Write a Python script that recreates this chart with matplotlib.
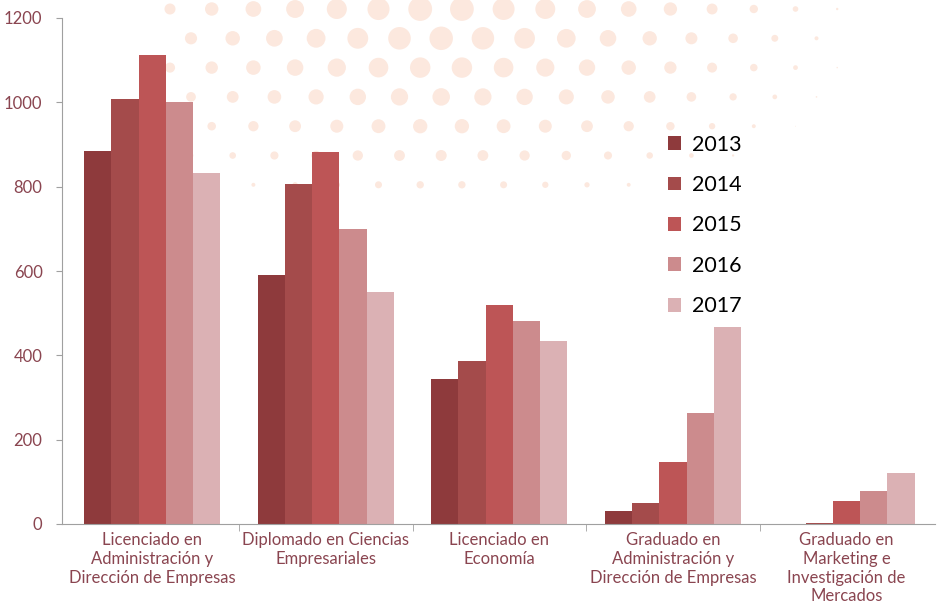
import numpy as np
import matplotlib.pyplot as plt

# data
categories = [
    "Licenciado en\nAdministración y\nDirección de Empresas",
    "Diplomado en Ciencias\nEmpresariales",
    "Licenciado en\nEconomía",
    "Graduado en\nAdministración y\nDirección de Empresas",
    "Graduado en\nMarketing e\nInvestigación de\nMercados",
]
years = ["2013", "2014", "2015", "2016", "2017"]
v2013 = [885, 590, 344, 31, 0]
v2014 = [1008, 806, 387, 50, 3]
v2015 = [1112, 882, 519, 147, 55]
v2016 = [1001, 700, 481, 263, 78]
v2017 = [832, 550, 434, 467, 121]
y_ticks = [0, 200, 400, 600, 800, 1000, 1200]

colors = ["#8e3a3c", "#a44b4b", "#bd5556", "#cc8b8d", "#dbb1b4"]
label_color = "#8a4550"

plt.rcParams['font.family'] = ['Lato', 'DejaVu Sans']

fig = plt.figure(figsize=(9.39, 6.08), dpi=100)

# faint halftone decoration in the background
bg = fig.add_axes([0, 0, 1, 1], zorder=0)
bg.set_xlim(0, 939)
bg.set_ylim(608, 0)
bg.axis('off')
for r in range(7):
    yy = 9 + r * 29.3
    off = 0 if r % 2 == 0 else 21
    xs = np.arange(170 + off, 900, 41.7)
    d = np.hypot((xs - 440) / 420.0, (yy - 20) / 210.0)
    s = np.clip(1 - d, 0, None) ** 1.6 * 330
    bg.scatter(xs, np.full_like(xs, yy), s=s, color="#fce8de", lw=0)

ax = fig.add_axes([62 / 939, 1 - 524 / 608, (935 - 62) / 939, (524 - 18) / 608], zorder=1)
ax.patch.set_alpha(0)

series = [v2013, v2014, v2015, v2016, v2017]
x = np.arange(len(categories))
w = 0.157
for i, (vals, yr) in enumerate(zip(series, years)):
    ax.bar(x + (i - 2) * w, vals, width=w, color=colors[i], label=yr)

ax.set_xlim(-0.52, 4.51)
ax.set_ylim(0, 1200)
ax.set_yticks(y_ticks)
ax.set_xticks(x)
ax.set_xticklabels(categories, color=label_color, fontsize=12, linespacing=1.2)
ax.set_xticks(np.arange(0.5, len(categories) - 1, 1), minor=True)
ax.tick_params(axis='x', which='major', length=0, pad=6)
ax.tick_params(axis='x', which='minor', length=5, color="#a0a0a0")
ax.tick_params(axis='y', length=4, color="#a0a0a0", labelsize=12, labelcolor=label_color, pad=10)

for sp in ['top', 'right']:
    ax.spines[sp].set_visible(False)
for sp in ['left', 'bottom']:
    ax.spines[sp].set_color("#a0a0a0")

ax.legend(loc='upper left', bbox_to_anchor=(0.672, 0.808), frameon=False, fontsize=15.5,
          handlelength=0.6, handleheight=0.6, handletextpad=0.5, labelspacing=0.95)

fig.savefig("out.png", dpi=100)
